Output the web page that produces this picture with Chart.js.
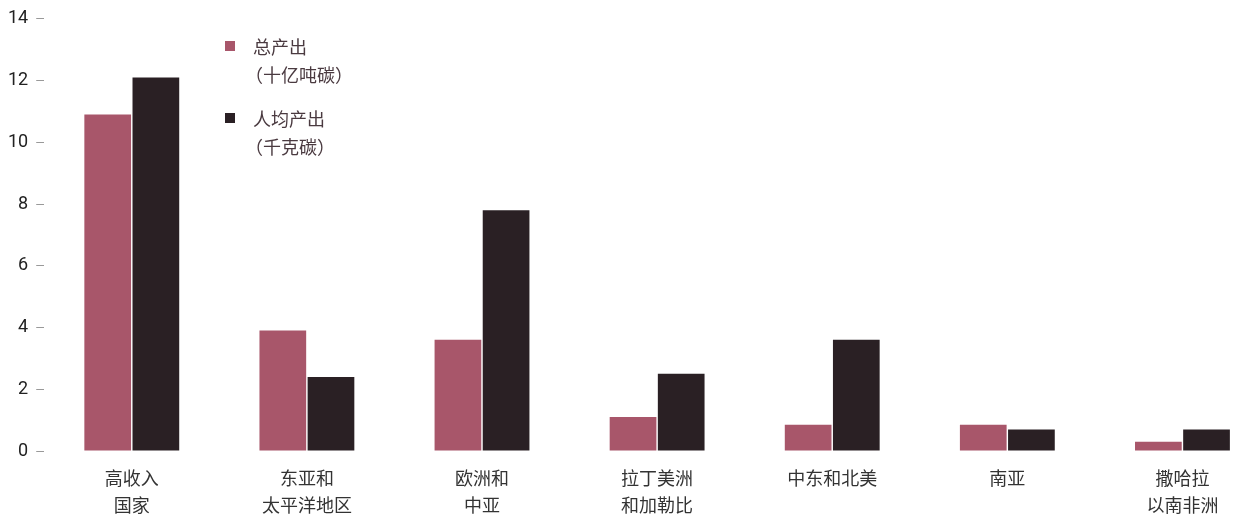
<!DOCTYPE html>
<html>
<head>
<meta charset="utf-8">
<script src="https://cdn.jsdelivr.net/npm/chart.js@4"></script>
<style>
    html, body { margin: 0; padding: 0; background: #fff; overflow: hidden; }
    .wrap { position: relative; width: 1270px; height: 514px; overflow: hidden; }
    .legend {
        position: absolute; left: 222px; top: 32px;
        font-family: "Noto Sans CJK SC", sans-serif; font-size: 18px; color: #4a3a40;
        line-height: 28px;
    }
    .legend .item { position: relative; padding-left: 31px; }
    .legend .item + .item { margin-top: 16px; }
    .legend .box { position: absolute; left: 3px; top: 9px; width: 10px; height: 10px; }
    .legend .sub { margin-left: -8px; }
</style>
</head>
<body>
<div class="wrap">
    <canvas id="chart" width="1270" height="525"></canvas>
    <div class="legend" id="legend"></div>
</div>
<script>
document.addEventListener("DOMContentLoaded", () => {

    // ================================
    // DATA
    // ================================
    const regions = [
        ["高收入", "国家"],
        ["东亚和", "太平洋地区"],
        ["欧洲和", "中亚"],
        ["拉丁美洲", "和加勒比"],
        "中东和北美",
        "南亚",
        ["撒哈拉", "以南非洲"]
    ];
    const totalOutput = [10.9, 3.9, 3.6, 1.1, 0.85, 0.85, 0.3];     // 十亿吨碳
    const perCapitaOutput = [12.1, 2.4, 7.8, 2.5, 3.6, 0.7, 0.7];  // 千克碳
    const yTicks = [0, 2, 4, 6, 8, 10, 12, 14];

    const seriesNames = [["总产出", "（十亿吨碳）"], ["人均产出", "（千克碳）"]];
    const seriesColors = ["#a8566a", "#2a2024"];

    // ================================
    // CHART
    // ================================
    const ctx = document.getElementById("chart").getContext("2d");

    new Chart(ctx, {
        type: "bar",
        data: {
            labels: regions,
            datasets: [
                {
                    label: seriesNames[0].join(""),
                    data: totalOutput,
                    backgroundColor: seriesColors[0]
                },
                {
                    label: seriesNames[1].join(""),
                    data: perCapitaOutput,
                    backgroundColor: seriesColors[1]
                }
            ]
        },
        options: {
            responsive: false,
            animation: false,
            categoryPercentage: 0.55,
            barPercentage: 0.97,
            layout: { padding: { top: 9, left: 0, right: 0, bottom: 0 } },
            plugins: {
                legend: { display: false },
                tooltip: { enabled: false }
            },
            scales: {
                x: {
                    grid: { display: false },
                    border: { display: false },
                    ticks: {
                        color: "#333",
                        padding: 6,
                        maxRotation: 0,
                        font: { family: "Noto Sans CJK SC", size: 18, lineHeight: 1.5 }
                    }
                },
                y: {
                    min: 0,
                    max: 14,
                    afterBuildTicks: axis => {
                        axis.ticks = yTicks.map(v => ({ value: v }));
                    },
                    grid: {
                        drawOnChartArea: false,
                        tickLength: 8,
                        color: "#999"
                    },
                    border: { display: false },
                    ticks: {
                        color: "#222",
                        padding: 8,
                        font: { family: "Roboto", size: 18 }
                    }
                }
            }
        }
    });

    // ================================
    // LEGEND
    // ================================
    const legend = document.getElementById("legend");
    seriesNames.forEach((name, i) => {
        const item = document.createElement("div");
        item.className = "item";
        item.innerHTML = '<span class="box" style="background:' + seriesColors[i] + '"></span>' +
            name[0] + '<br><span class="sub">' + name[1] + "</span>";
        legend.appendChild(item);
    });

});
</script>
</body>
</html>
